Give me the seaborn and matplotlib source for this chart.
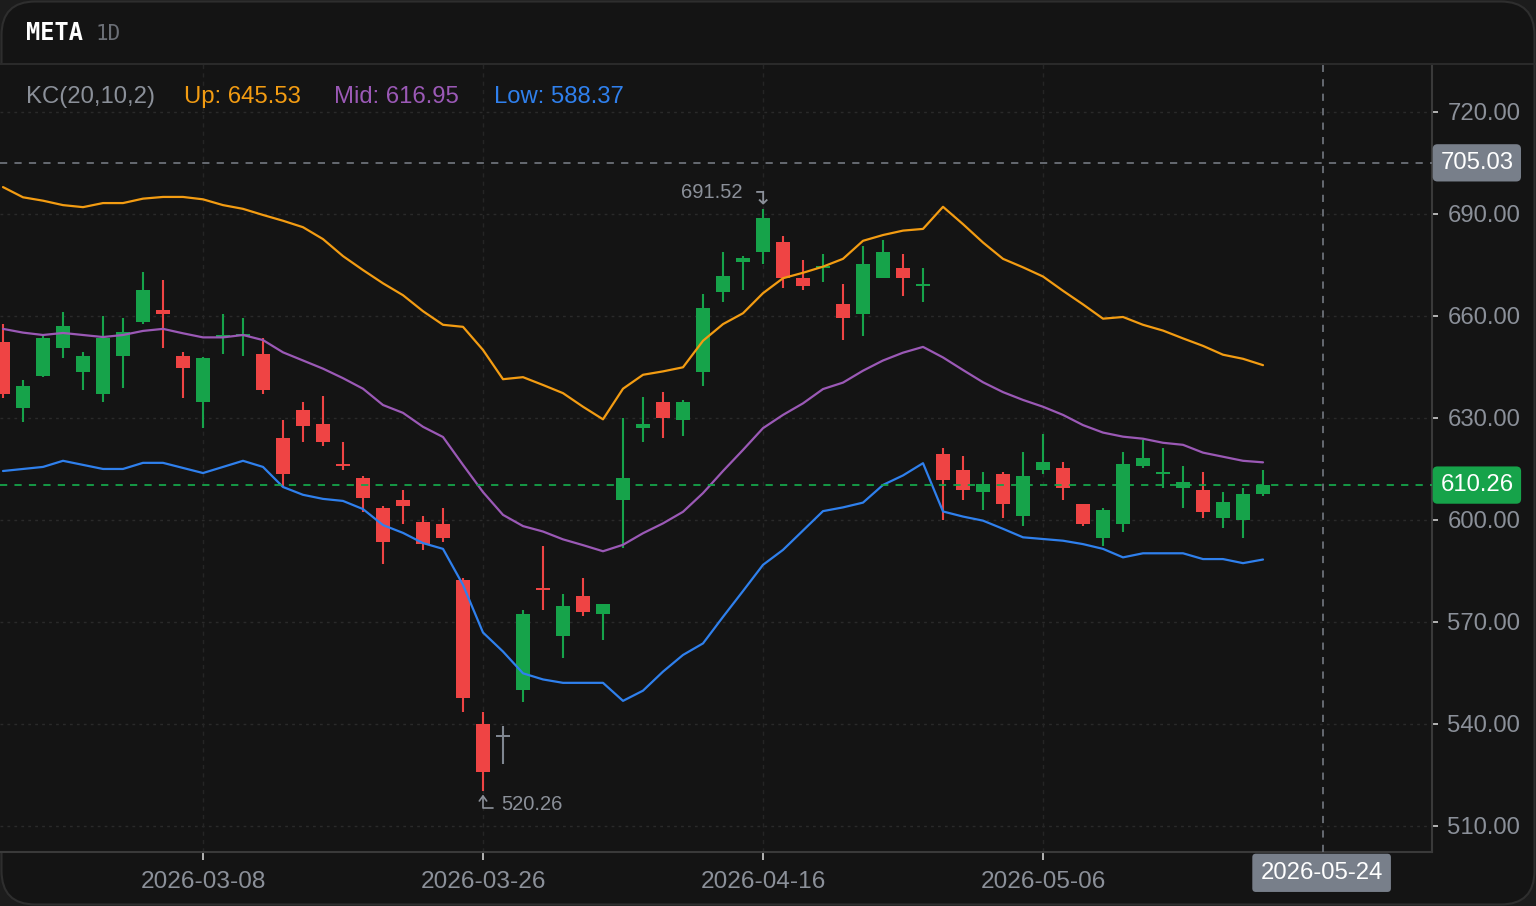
import numpy as np
import pandas as pd
import matplotlib
matplotlib.use('Agg')
import matplotlib.pyplot as plt
import matplotlib.transforms as mtransforms
from matplotlib.patches import FancyBboxPatch
from matplotlib.lines import Line2D
import seaborn as sns

# ---- data ----
opens = [652.3, 632.9, 642.3, 650.5, 643.4, 637.0, 648.1, 658.1, 661.7, 648.1,
         634.6, 653.9, 654.1, 648.7, 624.0, 632.3, 628.1, 616.4, 612.3, 603.4,
         605.8, 599.3, 598.7, 582.3, 539.9, 536.2, 549.9, 579.9, 565.8, 577.6,
         572.3, 605.8, 627.0, 634.6, 629.3, 643.4, 667.0, 675.8, 678.7, 681.7,
         671.1, 674.0, 663.4, 660.5, 671.1, 674.0, 668.7, 619.3, 614.6, 608.1,
         613.4, 601.1, 614.6, 615.2, 604.6, 594.6, 598.7, 615.8, 613.4, 609.3,
         608.7, 600.5, 599.9, 607.6]
highs = [657.6, 641.1, 654.1, 661.1, 649.3, 659.9, 659.3, 672.9, 670.5, 649.3,
         647.8, 660.5, 659.3, 653.4, 629.3, 634.6, 636.4, 622.9, 612.9, 604.0,
         608.7, 601.1, 603.4, 582.9, 543.4, 539.3, 573.4, 592.3, 578.1, 582.9,
         575.2, 629.9, 636.2, 637.6, 635.3, 666.4, 678.7, 677.6, 691.52, 683.4,
         676.4, 678.1, 669.3, 680.5, 682.3, 678.1, 674.0, 621.1, 618.7, 614.0,
         614.0, 619.9, 625.2, 617.0, 604.6, 603.4, 619.9, 623.4, 621.1, 615.8,
         614.0, 608.1, 609.3, 614.6]
lows = [636.0, 628.7, 642.0, 647.6, 638.1, 634.6, 638.7, 657.6, 650.5, 635.8,
        627.0, 648.7, 648.1, 637.0, 609.7, 622.9, 621.7, 614.6, 602.3, 587.0,
        598.7, 591.1, 593.4, 543.4, 520.26, 528.1, 546.4, 573.4, 559.3, 571.7,
        564.6, 591.7, 622.9, 624.0, 624.6, 639.3, 664.0, 667.6, 675.2, 668.1,
        667.6, 669.9, 652.9, 654.0, 671.1, 665.8, 664.0, 599.9, 605.8, 602.9,
        600.5, 598.1, 613.4, 605.8, 598.1, 592.3, 596.4, 615.2, 609.3, 603.4,
        600.5, 597.6, 594.6, 607.0]
closes = [637.0, 639.3, 653.4, 657.0, 648.1, 653.4, 655.2, 667.6, 660.5, 644.6,
          647.6, 654.3, 654.7, 638.1, 613.4, 627.6, 622.9, 615.8, 606.4, 593.4,
          604.0, 592.9, 594.6, 547.7, 525.8, 536.2, 572.3, 579.3, 574.6, 572.9,
          575.2, 612.3, 628.1, 630.0, 634.6, 662.3, 671.7, 677.0, 688.7, 671.1,
          668.7, 674.6, 659.3, 675.2, 678.7, 671.1, 669.3, 611.7, 608.7, 610.5,
          604.6, 612.9, 617.0, 609.3, 598.7, 602.9, 616.4, 618.1, 614.0, 611.1,
          602.3, 605.2, 607.6, 610.26]

# Keltner channel
kc_up = [697.9, 694.9, 693.9, 692.6, 692.0, 693.2, 693.2, 694.5, 695.0, 695.0,
         694.3, 692.6, 691.5, 689.7, 688.0, 686.1, 682.6, 677.6, 673.5, 669.6,
         666.1, 661.4, 657.4, 656.8, 650.0, 641.4, 642.0, 639.7, 637.3, 633.3,
         629.6, 638.6, 642.7, 643.7, 644.9, 652.7, 657.6, 660.8, 666.7, 671.1,
         672.7, 674.5, 676.8, 682.1, 683.8, 685.1, 685.6, 692.1, 687.0, 681.6,
         676.8, 674.3, 671.6, 667.4, 663.4, 659.2, 659.7, 657.4, 655.7, 653.4,
         651.2, 648.6, 647.4, 645.53]
kc_mid = [656.2, 655.1, 654.4, 655.0, 654.4, 653.8, 654.4, 655.6, 656.2, 654.9,
          653.7, 653.7, 654.4, 652.9, 649.3, 646.9, 644.5, 641.7, 638.6, 633.8,
          631.5, 627.4, 624.4, 616.2, 608.2, 601.5, 598.2, 596.6, 594.3, 592.6,
          590.8, 592.7, 596.1, 599.0, 602.4, 607.9, 614.4, 620.6, 627.0, 630.9,
          634.3, 638.5, 640.4, 643.9, 646.9, 649.2, 650.9, 647.8, 644.1, 640.5,
          637.6, 635.3, 633.3, 630.9, 627.9, 625.7, 624.5, 623.9, 622.7, 622.1,
          619.8, 618.6, 617.4, 616.95]
kc_low = [614.4, 615.0, 615.6, 617.4, 616.2, 615.0, 615.0, 616.8, 616.8, 615.3,
          613.8, 615.6, 617.4, 615.6, 609.7, 607.4, 606.2, 605.6, 603.2, 598.5,
          596.2, 593.2, 591.5, 580.9, 566.9, 561.3, 554.9, 553.1, 552.1, 552.1,
          552.1, 546.8, 549.8, 555.4, 560.3, 563.7, 571.5, 579.1, 586.8, 591.2,
          596.9, 602.6, 603.7, 605.1, 610.3, 613.1, 616.7, 602.5, 601.0, 599.8,
          597.4, 594.9, 594.4, 593.9, 592.9, 591.5, 589.0, 590.2, 590.2, 590.2,
          588.5, 588.5, 587.3, 588.37]

tick_idx = [10, 24, 38, 52]
tick_labels = ['2026-03-08', '2026-03-26', '2026-04-16', '2026-05-06']
y_ticks = [510, 540, 570, 600, 630, 660, 690, 720]
cross_idx = 66
cross_label = '2026-05-24'
cross_price = 705.03
last_price = 610.26
hi_idx, hi_val = 38, 691.52
lo_idx, lo_val = 24, 520.26

# ---- style ----
BG = '#141414'
GRID = '#2a2a2a'
TXT = '#8b9099'
GREEN = '#16a34a'
RED = '#ef4444'
GRAY = '#7f8690'
ORANGE = '#f39c12'
PURPLE = '#9b59b6'
BLUE = '#2f80ed'
CROSS = '#6c7078'
FS = 17.2

sns.set_theme(style='dark')
plt.rcParams['font.family'] = ['Liberation Sans', 'DejaVu Sans']

W, H = 1536, 906
fig = plt.figure(figsize=(W / 100, H / 100), dpi=100, facecolor='#1c1c1c')

# rounded card (behind everything)
card = FancyBboxPatch((1.5 / W, 1.5 / H), 1 - 3 / W, 1 - 3 / H,
                      boxstyle='round,pad=0,rounding_size=0.022',
                      transform=fig.transFigure, facecolor=BG,
                      edgecolor='#2e2e2e', linewidth=1.5, mutation_aspect=W / H,
                      zorder=-10)
fig.patches.append(card)

# header
fig.text(26 / W, 1 - 33 / H, 'META', color='white', fontsize=17,
         fontweight='bold', family='DejaVu Sans Mono', va='center')
fig.text(96 / W, 1 - 34 / H, '1D', color='#6b6f76', fontsize=15,
         family='DejaVu Sans Mono', va='center')
fig.add_artist(Line2D([0, 1], [1 - 63.5 / H, 1 - 63.5 / H], color='#2a2a2a',
                      lw=1.5, transform=fig.transFigure))

ax = fig.add_axes([0, (H - 852) / H, 1432 / W, (852 - 64) / H])
ax.set_facecolor(BG)

idx = np.arange(len(closes))
df = pd.DataFrame({'idx': idx, 'open': opens, 'high': highs, 'low': lows,
                   'close': closes, 'up': kc_up, 'mid': kc_mid, 'lo': kc_low})
colors = [GREEN if c > o else RED if c < o else GRAY
          for o, c in zip(df['open'], df['close'])]

# grid
for yt in y_ticks:
    ax.axhline(yt, color=GRID, lw=1, ls=(0, (2, 3)), zorder=0)
for xt in tick_idx:
    ax.axvline(xt, color='#252525', lw=1, ls=(0, (3, 3)), zorder=0)

# candles
ax.vlines(df['idx'], df['low'], df['high'], colors=colors, lw=1.5, zorder=2)
body_lo = np.minimum(df['open'], df['close'])
body_h = np.maximum(np.abs(df['close'] - df['open']), 0.55)
ax.bar(df['idx'], body_h, bottom=body_lo, width=0.68, color=colors,
       linewidth=0, zorder=3)

# keltner lines
sns.lineplot(data=df, x='idx', y='up', color=ORANGE, lw=1.6, ax=ax, zorder=4)
sns.lineplot(data=df, x='idx', y='mid', color=PURPLE, lw=1.6, ax=ax, zorder=4)
sns.lineplot(data=df, x='idx', y='lo', color=BLUE, lw=1.6, ax=ax, zorder=4)

# crosshair and last price
ax.axhline(cross_price, color=CROSS, lw=1.3, ls=(0, (4, 4)), zorder=5)
ax.axvline(cross_idx, color=CROSS, lw=1.3, ls=(0, (4, 4)), zorder=5)
ax.axhline(last_price, color=GREEN, lw=1.3, ls=(0, (4, 4)), zorder=5)

ax.set_xlim(-0.15, 71.45)
ax.set_ylim(502.35, 734.1)

ax.set_xticks(tick_idx)
ax.set_xticklabels(tick_labels)
ax.set_yticks(y_ticks)
ax.set_yticklabels([f'{v:.2f}' for v in y_ticks])
ax.yaxis.tick_right()
ax.tick_params(axis='x', colors='#d0d0d0', labelcolor=TXT, labelsize=FS + 0.4,
               length=6, width=1.2, pad=8, direction='out', bottom=True)
ax.tick_params(axis='y', colors='#d0d0d0', labelcolor=TXT, labelsize=FS,
               length=4, width=1.2, pad=7, direction='out', right=True, left=False)
ax.set_xlabel('')
ax.set_ylabel('')
ax.grid(False)
for s in ['top', 'left']:
    ax.spines[s].set_visible(False)
for s in ['right', 'bottom']:
    ax.spines[s].set_visible(True)
    ax.spines[s].set_color('#3a3a3a')
    ax.spines[s].set_linewidth(1.5)

# price boxes on the axis
ytrans = mtransforms.blended_transform_factory(ax.transAxes, ax.transData)
ax.annotate(f'{cross_price:.2f}', xy=(1, cross_price), xycoords=ytrans,
            xytext=(6, 0), textcoords='offset points', ha='left', va='center',
            color='white', fontsize=FS, annotation_clip=False, zorder=10,
            bbox=dict(boxstyle='round,pad=0.32,rounding_size=0.2', fc='#787f8a', ec='none'))
ax.annotate(f'{last_price:.2f}', xy=(1, last_price), xycoords=ytrans,
            xytext=(6, 0), textcoords='offset points', ha='left', va='center',
            color='white', fontsize=FS, annotation_clip=False, zorder=10,
            bbox=dict(boxstyle='round,pad=0.32,rounding_size=0.2', fc=GREEN, ec='none'))
xtrans = mtransforms.blended_transform_factory(ax.transData, ax.transAxes)
ax.annotate(cross_label, xy=(cross_idx, 0), xycoords=xtrans,
            xytext=(-1, -15), textcoords='offset points', ha='center', va='center',
            color='white', fontsize=FS, annotation_clip=False, zorder=10,
            bbox=dict(boxstyle='round,pad=0.34,rounding_size=0.15', fc='#787f8a', ec='none'))

# high / low markers
ax.annotate(f'{hi_val:.2f}', xy=(hi_idx, hi_val), xytext=(-15, 12),
            textcoords='offset points', ha='right', va='center',
            color=TXT, fontsize=14.5)
ax.annotate('\u21b4', xy=(hi_idx, hi_val), xytext=(-2, 8),
            textcoords='offset points', ha='center', va='center',
            color=TXT, fontsize=16, family='DejaVu Sans')
ax.annotate(f'{lo_val:.2f}', xy=(lo_idx, lo_val), xytext=(13.5, -10),
            textcoords='offset points', ha='left', va='center',
            color=TXT, fontsize=14.5)
ax.annotate('', xy=(lo_idx, lo_val), xytext=(7, -12),
            textcoords='offset points',
            arrowprops=dict(arrowstyle='->,head_length=0.3,head_width=0.22',
                            color=TXT, lw=1.2, shrinkA=0, shrinkB=2.5,
                            connectionstyle='angle,angleA=0,angleB=90,rad=0'))

# legend row
ly = 1 - 97 / H
fig.text(26 / W, ly, 'KC(20,10,2)', color=TXT, fontsize=FS, va='center')
fig.text(184 / W, ly, f'Up: {kc_up[-1]:.2f}', color=ORANGE, fontsize=FS, va='center')
fig.text(334 / W, ly, f'Mid: {kc_mid[-1]:.2f}', color=PURPLE, fontsize=FS, va='center')
fig.text(494 / W, ly, f'Low: {kc_low[-1]:.2f}', color=BLUE, fontsize=FS, va='center')

fig.savefig('out.png', dpi=100, facecolor=fig.get_facecolor())
